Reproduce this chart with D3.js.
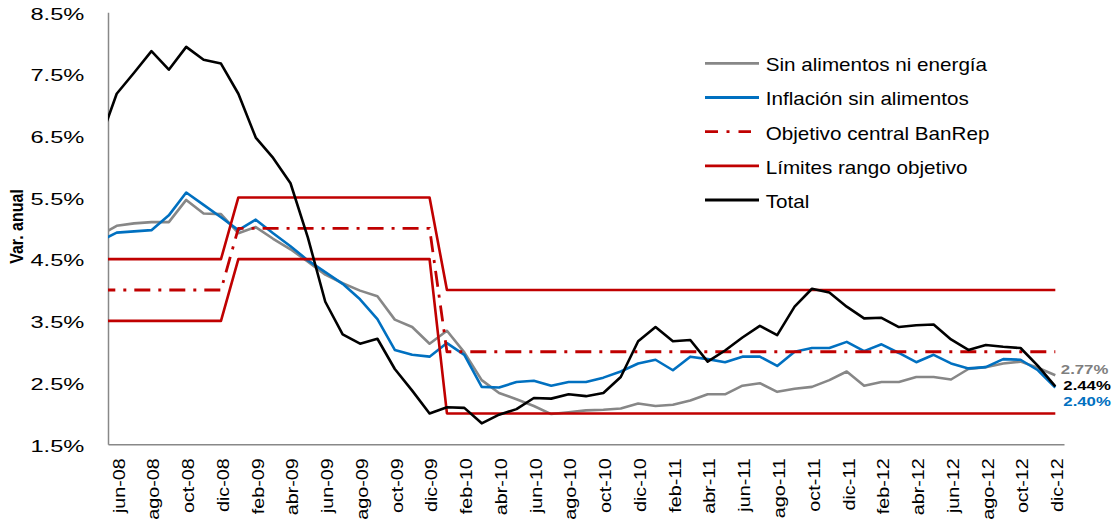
<!DOCTYPE html>
<html><head><meta charset="utf-8">
<script src="https://cdn.jsdelivr.net/npm/d3@7"></script>
<style>body{margin:0;background:#fff} svg{display:block}</style>
</head><body><svg id="c" width="1119" height="519"></svg>
<script>
const categories = ["may-08","jun-08","jul-08","ago-08","sep-08","oct-08","nov-08","dic-08",
  "ene-09","feb-09","mar-09","abr-09","may-09","jun-09","jul-09","ago-09","sep-09","oct-09","nov-09","dic-09",
  "ene-10","feb-10","mar-10","abr-10","may-10","jun-10","jul-10","ago-10","sep-10","oct-10","nov-10","dic-10",
  "ene-11","feb-11","mar-11","abr-11","may-11","jun-11","jul-11","ago-11","sep-11","oct-11","nov-11","dic-11",
  "ene-12","feb-12","mar-12","abr-12","may-12","jun-12","jul-12","ago-12","sep-12","oct-12","nov-12","dic-12"];
const xTickLabels = ["jun-08","ago-08","oct-08","dic-08","feb-09","abr-09","jun-09","ago-09","oct-09","dic-09",
  "feb-10","abr-10","jun-10","ago-10","oct-10","dic-10","feb-11","abr-11","jun-11","ago-11","oct-11","dic-11",
  "feb-12","abr-12","jun-12","ago-12","oct-12","dic-12"];
const yTicks = [1.5,2.5,3.5,4.5,5.5,6.5,7.5,8.5];

const sinAlimentosNiEnergia = [4.88,5.04,5.08,5.10,5.10,5.46,5.24,5.23,
  4.92,5.02,4.83,4.66,4.46,4.25,4.11,3.99,3.90,3.52,3.40,3.13,
  3.34,2.99,2.54,2.33,2.23,2.12,1.99,2.02,2.05,2.06,2.08,2.16,
  2.12,2.14,2.21,2.31,2.31,2.45,2.49,2.35,2.40,2.43,2.54,2.68,
  2.45,2.51,2.51,2.59,2.59,2.55,2.72,2.75,2.81,2.84,2.74,2.62];
const inflacionSinAlimentos = [4.79,4.93,4.95,4.97,5.21,5.58,5.38,5.18,
  4.97,5.14,4.92,4.71,4.48,4.29,4.10,3.85,3.53,3.03,2.95,2.92,
  3.14,2.95,2.43,2.42,2.51,2.53,2.45,2.51,2.51,2.58,2.68,2.81,
  2.87,2.70,2.92,2.88,2.83,2.92,2.92,2.77,3.00,3.06,3.06,3.16,
  3.01,3.12,2.98,2.83,2.95,2.81,2.73,2.75,2.88,2.87,2.70,2.42];
const objetivoCentral = [4,4,4,4,4,4,4,4,
  5,5,5,5,5,5,5,5,5,5,5,5,
  3,3,3,3,3,3,3,3,3,3,3,3,
  3,3,3,3,3,3,3,3,3,3,3,3,
  3,3,3,3,3,3,3,3,3,3,3,3];
const limiteSuperior = [4.5,4.5,4.5,4.5,4.5,4.5,4.5,4.5,
  5.5,5.5,5.5,5.5,5.5,5.5,5.5,5.5,5.5,5.5,5.5,5.5,
  4,4,4,4,4,4,4,4,4,4,4,4,
  4,4,4,4,4,4,4,4,4,4,4,4,
  4,4,4,4,4,4,4,4,4,4,4,4];
const limiteInferior = [3.5,3.5,3.5,3.5,3.5,3.5,3.5,3.5,
  4.5,4.5,4.5,4.5,4.5,4.5,4.5,4.5,4.5,4.5,4.5,4.5,
  2,2,2,2,2,2,2,2,2,2,2,2,
  2,2,2,2,2,2,2,2,2,2,2,2,
  2,2,2,2,2,2,2,2,2,2,2,2];
const total = [6.39,7.18,7.52,7.87,7.57,7.94,7.73,7.67,
  7.18,6.47,6.14,5.73,4.85,3.81,3.28,3.13,3.21,2.72,2.37,2.00,
  2.10,2.09,1.84,1.98,2.07,2.25,2.24,2.31,2.28,2.33,2.59,3.17,
  3.40,3.17,3.19,2.84,3.02,3.23,3.42,3.27,3.73,4.02,3.96,3.73,
  3.54,3.55,3.40,3.43,3.44,3.20,3.03,3.11,3.08,3.06,2.77,2.44];
const legendLabels = ["Sin alimentos ni energía","Inflación sin alimentos","Objetivo central BanRep","Límites rango objetivo","Total"];
const endLabels = ["2.77%","2.44%","2.40%"];
const yTitle = "Var. anual";

const FONT = '"Liberation Sans", Arial, sans-serif';
const GRAY = "#878787", BLUE = "#0070C0", RED = "#C00000", BLACK = "#000000";

const svg = d3.select("#c");
const x = d3.scaleLinear().domain([0.5, 55.5]).range([108, 1064]);
const y = d3.scaleLinear().domain([1.5, 8.5]).range([444.3, 12.3]);

svg.append("defs").append("clipPath").attr("id","plotclip")
  .append("rect").attr("x",108).attr("y",0).attr("width",956).attr("height",519);

// axes
const yAxis = svg.append("g").attr("transform","translate(108,0)")
  .call(d3.axisLeft(y).tickValues(yTicks).tickSize(0).tickSizeOuter(0).tickFormat(d => d.toFixed(1) + "%"));
yAxis.attr("font-family", FONT).attr("font-size", 17);
yAxis.select(".domain").attr("stroke", "#888").attr("stroke-width", 1.5);
yAxis.selectAll(".tick text").attr("fill","#000").attr("x",0).attr("dy",null).attr("y",6.8)
  .attr("text-anchor","end").attr("transform","translate(-23.7,0) scale(1.39,1)");

const xTickIdx = xTickLabels.map(l => categories.indexOf(l));
const xAxis = svg.append("g").attr("transform","translate(0,444.3)")
  .call(d3.axisBottom(x).tickValues(xTickIdx).tickSize(0).tickSizeOuter(0).tickFormat(i => categories[i]));
xAxis.attr("font-family", FONT).attr("font-size", 17);
xAxis.select(".domain").attr("stroke", "#888").attr("stroke-width", 1.5);
xAxis.selectAll(".tick text").attr("fill","#000").attr("x",0).attr("y",0).attr("dy","0.43em")
  .attr("text-anchor","end").attr("transform","translate(0,14) rotate(-90) scale(1.16,1)");

// y title
svg.append("text").text(yTitle).attr("font-family",FONT).attr("font-weight","bold").attr("font-size",16)
  .attr("text-anchor","middle").attr("transform","translate(22.7,226.5) rotate(-90) scale(1,1.2)");

// lines
const line = d3.line().x((d,i) => x(i)).y(d => y(d));
const plot = svg.append("g").attr("clip-path","url(#plotclip)");
const series = [
  {data: sinAlimentosNiEnergia, color: GRAY, w: 2.6, dash: null},
  {data: inflacionSinAlimentos, color: BLUE, w: 2.6, dash: null},
  {data: objetivoCentral, color: RED, w: 2.8, dash: "16,8,3,8"},
  {data: limiteSuperior, color: RED, w: 2.6, dash: null},
  {data: limiteInferior, color: RED, w: 2.6, dash: null},
  {data: total, color: BLACK, w: 2.6, dash: null}
];
series.forEach(s => {
  plot.append("path").datum(s.data).attr("d", line).attr("fill","none")
    .attr("stroke", s.color).attr("stroke-width", s.w).attr("stroke-linejoin","round")
    .attr("stroke-dasharray", s.dash);
});

// legend
const legendStyles = [
  {color: GRAY, dash: null, x2: 759},
  {color: BLUE, dash: null, x2: 759},
  {color: RED, dash: "13,8.5,3,9", x2: 751},
  {color: RED, dash: null, x2: 759},
  {color: BLACK, dash: null, x2: 759}
];
const legendY = d3.scalePoint().domain(legendLabels).range([63.3, 200]);
const lg = svg.append("g");
legendLabels.forEach((lab, i) => {
  const yy = legendY(lab);
  const st = legendStyles[i];
  lg.append("line").attr("x1",705).attr("x2",st.x2).attr("y1",yy).attr("y2",yy)
    .attr("stroke",st.color).attr("stroke-width",2.8).attr("stroke-dasharray",st.dash);
  lg.append("text").text(lab).attr("font-family",FONT).attr("font-size",17.5).attr("fill","#000")
    .attr("transform",`translate(765.7,${yy + 8}) scale(1.18,1)`);
});

// end labels
const last = categories.length - 1;
const endInfo = [
  {v: sinAlimentosNiEnergia[last], color: "#7F7F7F", dx: 5.5, dy: -1.3},
  {v: total[last], color: BLACK, dx: 8, dy: 3.7},
  {v: inflacionSinAlimentos[last], color: BLUE, dx: 8, dy: 18.6}
];
endInfo.forEach((e, i) => {
  svg.append("text").text(endLabels[i]).attr("font-family",FONT).attr("font-weight","bold")
    .attr("font-size",13).attr("fill",e.color)
    .attr("transform",`translate(${x(last) + e.dx},${y(e.v) + e.dy}) scale(1.29,1)`);
});
</script></body></html>
